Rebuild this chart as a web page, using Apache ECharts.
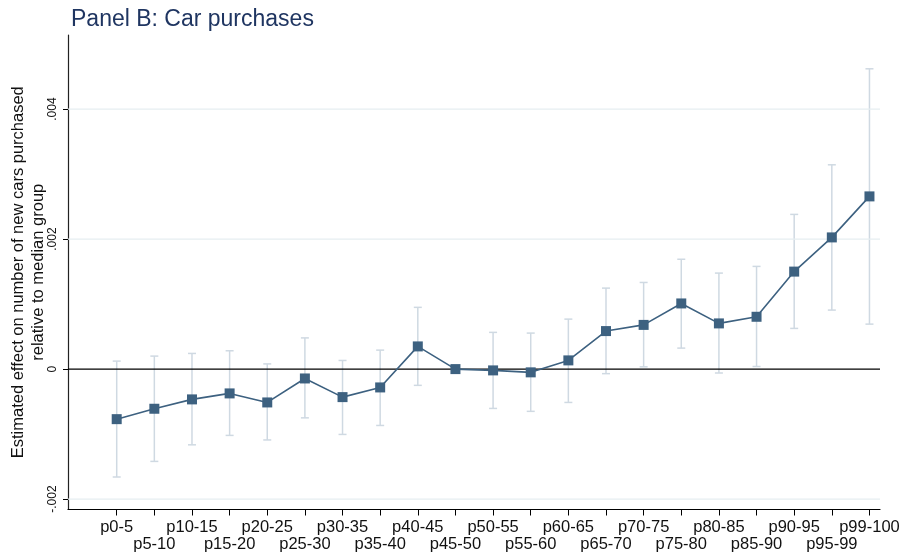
<!DOCTYPE html>
<html>
<head>
<meta charset="utf-8">
<script src="https://cdn.jsdelivr.net/npm/echarts@6/dist/echarts.min.js"></script>
<style>
  html, body { margin: 0; padding: 0; background: #fff; }
  #chart { width: 906px; height: 555px; }
</style>
</head>
<body>
<div id="chart"></div>
<script>
// Income percentile groups
const groups = ['p0-5', 'p5-10', 'p10-15', 'p15-20', 'p20-25', 'p25-30', 'p30-35', 'p35-40',
  'p40-45', 'p45-50', 'p50-55', 'p55-60', 'p60-65', 'p65-70', 'p70-75', 'p75-80',
  'p80-85', 'p85-90', 'p90-95', 'p95-99', 'p99-100'];

// Point estimates (median group p45-50 is the reference, fixed at 0)
const estimates = [-0.00077, -0.00061, -0.000466, -0.000374, -0.000513, -0.000144, -0.000431, -0.000282,
  0.000349, 0, -0.00002, -0.00005, 0.000134, 0.000585, 0.00068, 0.00101,
  0.000703, 0.000805, 0.0015, 0.002026, 0.002657];

// 95% confidence interval bounds
const ciLow = [-0.00166, -0.00142, -0.001165, -0.00102, -0.00109, -0.00075, -0.001005, -0.000867,
  -0.00025, 0, -0.000605, -0.00065, -0.000513, -0.00007, 0.000035, 0.000323,
  -0.00006, 0.00004, 0.000626, 0.000908, 0.000692];
const ciHigh = [0.000123, 0.0002, 0.000241, 0.000282, 0.00008, 0.00048, 0.000133, 0.000292,
  0.00095, 0, 0.000565, 0.000554, 0.000769, 0.001246, 0.001333, 0.00169,
  0.001477, 0.00158, 0.00238, 0.003143, 0.00462];

// Y-axis tick values and labels
const yTicks = [-0.002, 0, 0.002, 0.004];
const yTickLabels = ['-.002', '0', '.002', '.004'];

const navy = '#3d6180';
const ciColor = '#cfd9e2';
const font = 'Liberation Sans, Arial, sans-serif';

const idx = groups.map((g, i) => i);
// labels alternate between two rows under the axis
const evenIdx = idx.filter(i => i % 2 === 0);
const oddIdx = idx.filter(i => i % 2 === 1);

const xRange = { min: -1.294, max: 20.28 };
const xLabelStyle = { fontFamily: font, fontSize: 16.5, color: '#111' };

const chart = echarts.init(document.getElementById('chart'), null, { renderer: 'canvas' });

chart.setOption({
  animation: false,
  backgroundColor: '#ffffff',
  title: {
    text: 'Panel B: Car purchases',
    left: 66, top: 3,
    textStyle: { fontFamily: font, fontSize: 23, fontWeight: 'normal', color: '#1f3561' }
  },
  grid: { left: 68, right: 26, top: 35, bottom: 45.5, outerBoundsMode: 'none', containLabel: false },
  xAxis: [
    {
      type: 'value',
      position: 'bottom',
      min: xRange.min,
      max: xRange.max,
      axisLine: { show: true, onZero: false, lineStyle: { color: '#000', width: 1.2 } },
      axisTick: { show: true, length: 6, lineStyle: { color: '#000', width: 1 }, customValues: idx },
      splitLine: { show: false },
      axisLabel: Object.assign({
        customValues: evenIdx,
        showMinLabel: true,
        showMaxLabel: true,
        hideOverlap: false,
        margin: 9,
        formatter: v => groups[Math.round(v)]
      }, xLabelStyle)
    },
    {
      type: 'value',
      position: 'bottom',
      min: xRange.min,
      max: xRange.max,
      axisLine: { show: false, onZero: false },
      axisTick: { show: false },
      splitLine: { show: false },
      axisLabel: Object.assign({
        customValues: oddIdx,
        showMinLabel: true,
        showMaxLabel: true,
        hideOverlap: false,
        margin: 26,
        formatter: v => groups[Math.round(v)]
      }, xLabelStyle)
    }
  ],
  yAxis: {
    type: 'value',
    min: -0.00216,
    max: 0.00514,
    name: 'Estimated effect on number of new cars purchased\nrelative to median group',
    nameLocation: 'middle',
    nameGap: 20,
    nameMoveOverlap: false,
    nameTextStyle: { fontFamily: font, fontSize: 16.5, color: '#111', lineHeight: 20 },
    axisLine: { show: true, onZero: false, lineStyle: { color: '#222', width: 1.2 } },
    axisTick: { show: true, length: 5, lineStyle: { color: '#000', width: 1 }, customValues: yTicks },
    axisLabel: {
      customValues: yTicks,
      showMinLabel: true,
      showMaxLabel: true,
      rotate: 90,
      margin: 9,
      fontFamily: font, fontSize: 12, color: '#111',
      formatter: v => {
        const k = yTicks.findIndex(t => Math.abs(t - v) < 1e-9);
        return k >= 0 ? yTickLabels[k] : '';
      }
    },
    splitLine: { show: false }
  },
  series: [
    {
      // horizontal grid lines, with the zero reference line in black
      type: 'custom',
      silent: true,
      data: yTicks.map(t => [0, t]),
      renderItem: (params, api) => {
        const cs = params.coordSys;
        const y = api.coord([0, api.value(1)])[1];
        const isZero = Math.abs(api.value(1)) < 1e-12;
        return {
          type: 'line',
          shape: { x1: cs.x, y1: y, x2: cs.x + cs.width, y2: y },
          style: { stroke: isZero ? '#000' : '#e6eef1', lineWidth: 1.3 },
          z2: isZero ? 5 : 0
        };
      },
      z: 1
    },
    {
      // confidence interval bars with caps
      type: 'custom',
      silent: true,
      data: idx.map(i => [i, ciLow[i], ciHigh[i]]),
      renderItem: (params, api) => {
        const lo = api.coord([api.value(0), api.value(1)]);
        const hi = api.coord([api.value(0), api.value(2)]);
        const cap = 4;
        const style = { stroke: ciColor, lineWidth: 1.5 };
        return {
          type: 'group',
          children: [
            { type: 'line', shape: { x1: lo[0], y1: lo[1], x2: hi[0], y2: hi[1] }, style },
            { type: 'line', shape: { x1: lo[0] - cap, y1: lo[1], x2: lo[0] + cap, y2: lo[1] }, style },
            { type: 'line', shape: { x1: hi[0] - cap, y1: hi[1], x2: hi[0] + cap, y2: hi[1] }, style }
          ]
        };
      },
      z: 0
    },
    {
      type: 'line',
      data: idx.map(i => [i, estimates[i]]),
      symbol: 'rect',
      symbolSize: 10,
      showAllSymbol: true,
      itemStyle: { color: navy },
      lineStyle: { color: navy, width: 1.6 },
      z: 3
    }
  ]
});
</script>
</body>
</html>
